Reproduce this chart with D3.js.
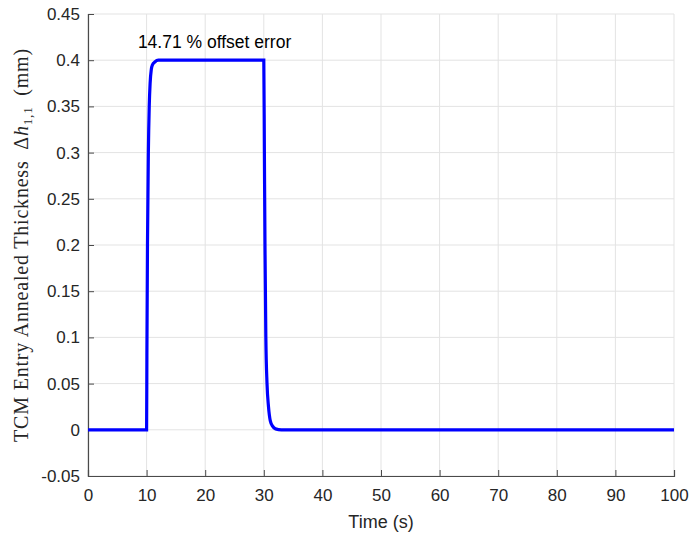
<!DOCTYPE html>
<html lang="en">
<head>
  <meta charset="UTF-8">
  <title>TCM Entry Annealed Thickness</title>
  <script src="https://cdn.jsdelivr.net/npm/d3@7"></script>
  <style>
    body { margin: 0; background: #fff; }
    .tick text { font-family: "Liberation Sans", Arial, sans-serif; font-size: 17px; fill: #262626; }
    .grid line { stroke: #e3e3e3; stroke-width: 1; }
  </style>
</head>
<body>
  <svg id="chart" width="691" height="538"></svg>
  <script>
    // time samples (s) and thickness (mm)
    const timeS = [0, 10, 10.05, 10.15, 10.3, 10.45, 10.6, 10.8, 11.0, 11.4, 12.0, 13.0,
                   30.0, 30.1, 30.2, 30.35, 30.55, 30.8, 31.1, 31.5, 32.0, 33.0, 100];
    const thickness = [0, 0, 0.08, 0.2, 0.3, 0.35, 0.375, 0.39, 0.395, 0.398, 0.4, 0.4,
                       0.4, 0.3, 0.2, 0.1, 0.05, 0.025, 0.01, 0.004, 0.001, 0, 0];

    const xTicks = [0, 10, 20, 30, 40, 50, 60, 70, 80, 90, 100];
    const yTicks = [-0.05, 0, 0.05, 0.1, 0.15, 0.2, 0.25, 0.3, 0.35, 0.4, 0.45];
    const annotation = { t: 21.6, v: 0.413, text: "14.71 % offset error" };

    const svg = d3.select('#chart');
    const mLeft = 88, mRight = 674, mTop = 14, mBottom = 476;

    const x = d3.scaleLinear().domain([0, 100]).range([mLeft, mRight]);
    const y = d3.scaleLinear().domain([-0.05, 0.45]).range([mBottom, mTop]);

    // grid
    svg.append('g').attr('class', 'grid')
      .selectAll('line').data(xTicks).join('line')
      .attr('x1', d => x(d)).attr('x2', d => x(d))
      .attr('y1', mTop).attr('y2', mBottom);
    svg.append('g').attr('class', 'grid')
      .selectAll('line').data(yTicks).join('line')
      .attr('x1', mLeft).attr('x2', mRight)
      .attr('y1', d => y(d)).attr('y2', d => y(d));

    // axes, ticks pointing inward like matlab
    const yFmt = d => d === 0 ? '0' : d3.format('.2~f')(d).replace('−', '-');
    const xAxis = svg.append('g')
      .attr('transform', `translate(0,${mBottom})`)
      .call(d3.axisBottom(x).tickValues(xTicks).tickSize(-6).tickPadding(13).tickFormat(d3.format('d')));
    const yAxis = svg.append('g')
      .attr('transform', `translate(${mLeft},0)`)
      .call(d3.axisLeft(y).tickValues(yTicks).tickSize(-6).tickPadding(8).tickFormat(yFmt));
    [xAxis, yAxis].forEach(a => {
      a.select('.domain').attr('stroke', '#4a4a4a').attr('stroke-width', 1.2);
      a.selectAll('.tick line').attr('stroke', '#4a4a4a');
    });

    // curve
    const line = d3.line().x(d => x(d[0])).y(d => y(d[1])).curve(d3.curveMonotoneX);
    svg.append('path')
      .datum(timeS.map((t, i) => [t, thickness[i]]))
      .attr('d', line)
      .attr('fill', 'none')
      .attr('stroke', '#0000ff')
      .attr('stroke-width', 3.2);

    svg.append('text')
      .attr('x', x(annotation.t)).attr('y', y(annotation.v))
      .attr('text-anchor', 'middle')
      .style('font-family', '"Liberation Sans", Arial, sans-serif')
      .style('font-size', '17.5px')
      .attr('fill', '#000')
      .text(annotation.text);

    // axis labels
    svg.append('text')
      .attr('x', (mLeft + mRight) / 2).attr('y', 528)
      .attr('text-anchor', 'middle')
      .style('font-family', '"Liberation Sans", Arial, sans-serif')
      .style('font-size', '18px')
      .attr('fill', '#262626')
      .text('Time (s)');

    const yl = svg.append('text')
      .attr('transform', `translate(28,${(mTop + mBottom) / 2}) rotate(-90)`)
      .attr('text-anchor', 'middle')
      .style('font-family', '"Liberation Serif", "DejaVu Serif", serif')
      .style('font-size', '20px')
      .style('letter-spacing', '0.8px')
      .attr('fill', '#262626');
    yl.append('tspan').text('TCM Entry Annealed Thickness\u2002Δ');
    yl.append('tspan').style('font-style', 'italic').text('h');
    yl.append('tspan').attr('dy', 4).style('font-size', '13px').text('1,1');
    yl.append('tspan').attr('dy', -4).text('\u2002(mm)');
  </script>
</body>
</html>
